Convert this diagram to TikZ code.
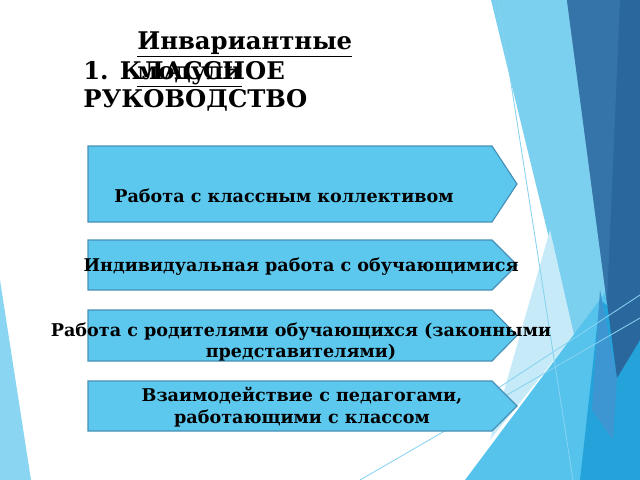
\documentclass[tikz,border=0pt]{standalone}
\usepackage{fontspec}
\setmainfont{DejaVu Serif}
\usepackage{xcolor}
\usetikzlibrary{positioning}
\definecolor{plateFill}{HTML}{5CC8EE}
\definecolor{plateLine}{HTML}{4590B6}
\definecolor{facetLeft}{HTML}{8AD5F1}
\definecolor{facetBand}{HTML}{7BCFEF}
\definecolor{facetPale}{HTML}{C6EAF8}
\definecolor{facetLow}{HTML}{55C3EC}
\definecolor{facetDark}{HTML}{2A679C}
\definecolor{facetMid}{HTML}{3474A9}
\definecolor{facetStrip}{HTML}{3D96D1}
\definecolor{facetDeep}{HTML}{24A3DB}
\definecolor{facetRule}{HTML}{86D3F1}

\begin{document}
\begin{tikzpicture}[x=0.025cm,y=-0.025cm,
    plate/.style={fill=plateFill,draw=plateLine,line width=0.8pt},
    lbl/.style={font=\bfseries\fontsize{12.5}{15.5}\selectfont,align=center,inner sep=0pt},
    head/.style={font=\bfseries\fontsize{17.3}{20}\selectfont,anchor=base west,inner sep=0pt}]
    \useasboundingbox (0,0) rectangle (640,480);
    %background facets
    \fill[facetLeft] (0,280) -- (31,480) -- (0,480) -- cycle;
    \fill[facetBand] (491,0) -- (567,0) -- (617,378) -- (600,420) -- (575,345) -- cycle;
    \fill[facetPale] (550,230) -- (574,335) -- (490,440) -- cycle;
    \fill[facetLow] (465,480) -- (590,313) -- (640,246) -- (640,480) -- cycle;
    \fill[facetDeep] (580,480) -- (600,300) -- (640,330) -- (640,480) -- cycle;
    \fill[facetStrip] (600,290) -- (617,378) -- (613,440) -- (592,410) -- cycle;
    \fill[facetDark] (567,0) -- (640,0) -- (640,340) -- (617,378) -- cycle;
    \fill[facetMid] (567,0) -- (620,0) -- (607,303) -- cycle;
    \draw[facetRule,line width=0.6pt] (498,0) -- (573,480);
    \draw[facetRule,line width=0.6pt] (360,480) -- (640,318);
    \draw[facetRule,line width=0.6pt] (480,400) -- (640,295);

    \foreach \t/\b in {146/222,240/290,310/361,381/431}
        \draw[plate] (88,\t) -- (492,\t) -- (517,{(\t+\b)/2}) -- (492,\b) -- (88,\b) -- cycle;

    \node[head] (inv) at (137,49) {\underline{Инвариантные}};
    \node[head] (mod) at (137,79) {\underline{модули}};
    \node[head] (razdel) at (83,79) {1. КЛАССНОЕ};
    \node[head] (ruk) at (83,107) {РУКОВОДСТВО};

    \node[lbl] (team) at (284,196) {Работа с классным коллективом};
    \node[lbl] (pupil) at (301,267) {Индивидуальная работа с обучающимися};
    \node[lbl] (parents) at (301,342) {Работа с родителями обучающихся (законными\\представителями)};
    \node[lbl] (teachers) at (302,407) {Взаимодействие с педагогами,\\работающими с классом};
\end{tikzpicture}
\end{document}
